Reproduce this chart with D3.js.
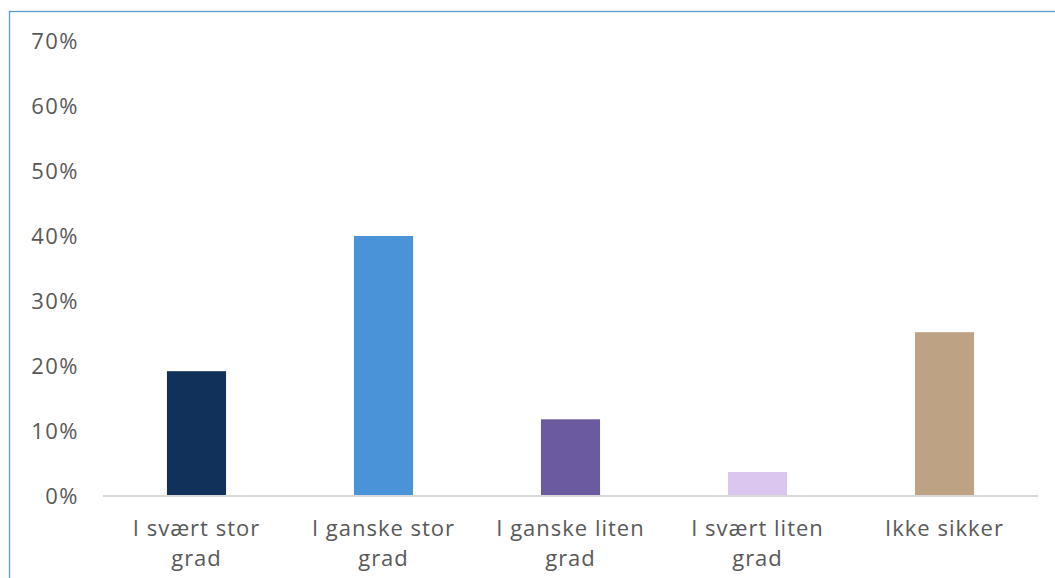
<!DOCTYPE html>
<html>
<head>
<meta charset="utf-8">
<script src="https://cdn.jsdelivr.net/npm/d3@7"></script>
<style>
  html, body { margin: 0; padding: 0; background: #ffffff; }
  svg { display: block; }
  text { font-family: "Open Sans", Inter, sans-serif; }
</style>
</head>
<body>
<svg id="chart" width="1055" height="578"></svg>
<script>
// Response categories (each label split over lines as displayed)
const categories = [
  ["I svært stor", "grad"],
  ["I ganske stor", "grad"],
  ["I ganske liten", "grad"],
  ["I svært liten", "grad"],
  ["Ikke sikker"]
];
// Share of respondents per category
const shares = [0.192, 0.40, 0.118, 0.037, 0.252];
const barColors = ["#12315a", "#4a93d9", "#6b5aa0", "#dac6ef", "#bda384"];
const yTicks = [0, 0.1, 0.2, 0.3, 0.4, 0.5, 0.6, 0.7];

const svg = d3.select("#chart");
const W = 1055, H = 578;
const plot = { left: 103, right: 1038, top: 41, bottom: 496 };

// Chart frame (extends beyond the visible area on the right and bottom)
svg.append("rect")
  .attr("x", 9.5).attr("y", 11.5)
  .attr("width", W + 20).attr("height", H + 20)
  .attr("fill", "none")
  .attr("stroke", "#5b9bd5")
  .attr("stroke-width", 1.3);

const keys = categories.map(c => c.join(" "));
const x = d3.scaleBand()
  .domain(keys)
  .range([plot.left, plot.right])
  .paddingInner(0.684)
  .paddingOuter(0.342);

const y = d3.scaleLinear()
  .domain([0, 0.7])
  .range([plot.bottom, plot.top]);

// Y axis labels (no line, no tick marks)
const yAxis = d3.axisLeft(y)
  .tickValues(yTicks)
  .tickFormat(d3.format(".0%"))
  .tickSize(0)
  .tickPadding(0);
const gy = svg.append("g")
  .attr("transform", `translate(79,0)`)
  .call(yAxis);
gy.select(".domain").remove();
gy.selectAll("text")
  .attr("fill", "#595959")
  .style("font-size", "22px")
  .style("letter-spacing", "1.5px")
  .attr("dy", "0.35em");

// Bars
svg.append("g").selectAll("rect")
  .data(shares)
  .join("rect")
  .attr("x", (d, i) => x(keys[i]))
  .attr("y", d => y(d))
  .attr("width", x.bandwidth())
  .attr("height", d => y(0) - y(d))
  .attr("fill", (d, i) => barColors[i]);

// X axis baseline and category labels
const xAxis = d3.axisBottom(x).tickSize(0).tickFormat("");
const gx = svg.append("g")
  .attr("transform", `translate(0,${plot.bottom})`)
  .call(xAxis);
gx.select(".domain")
  .attr("stroke", "#d9d9d9")
  .attr("stroke-width", 2)
  .attr("d", `M${plot.left},0H${plot.right}`);

const lbl = svg.append("g").selectAll("text")
  .data(categories)
  .join("text")
  .attr("x", (d, i) => x(keys[i]) + x.bandwidth() / 2)
  .attr("y", 536)
  .attr("text-anchor", "middle")
  .attr("fill", "#595959")
  .style("font-size", "22px")
  .style("letter-spacing", "1px");
lbl.selectAll("tspan")
  .data(d => d)
  .join("tspan")
  .attr("x", function() { return d3.select(this.parentNode).attr("x"); })
  .attr("dy", (d, i) => i === 0 ? 0 : 29.5)
  .text(d => d);
</script>
</body>
</html>
